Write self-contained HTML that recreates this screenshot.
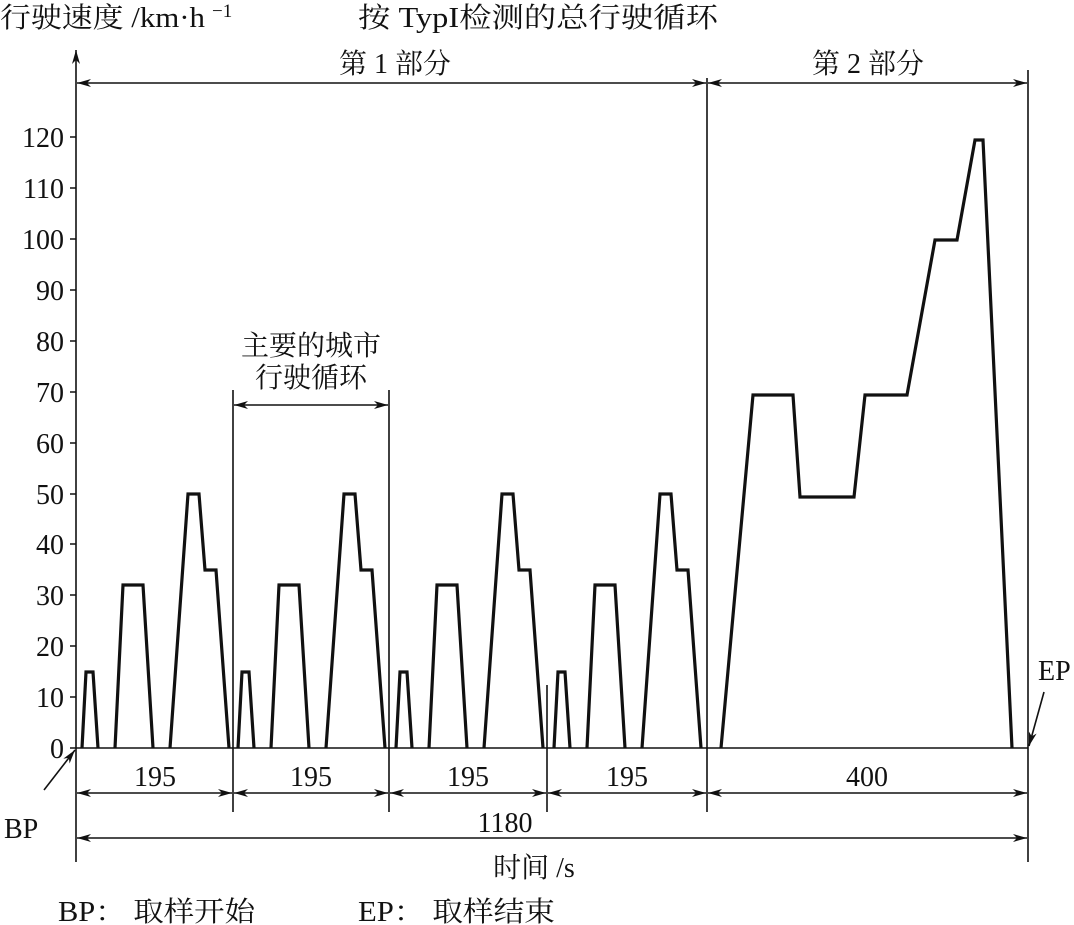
<!DOCTYPE html>
<html><head><meta charset="utf-8"><style>
html,body{margin:0;padding:0;background:#fff;}
svg{display:block;}
text{font-family:"Liberation Serif","Noto Serif CJK SC","Noto Sans CJK SC",serif;fill:#111;}
</style></head><body>
<svg width="1074" height="925" viewBox="0 0 1074 925" xmlns="http://www.w3.org/2000/svg">
<defs>
<marker id="a" viewBox="0 0 14 8" refX="14" refY="4" markerWidth="14" markerHeight="8" orient="auto-start-reverse" markerUnits="userSpaceOnUse">
<path d="M0,0 L14,4 L0,8 L4,4 Z" fill="#111"/></marker>
</defs>
<g stroke="#111" stroke-width="1.6" fill="none">
<line x1="76" y1="50" x2="76" y2="862" marker-start="url(#a)"/>
<line x1="76" y1="748" x2="1028" y2="748"/>
<line x1="707" y1="78" x2="707" y2="812"/>
<line x1="1028" y1="70" x2="1028" y2="862"/>
<line x1="233" y1="390" x2="233" y2="812"/>
<line x1="389" y1="390" x2="389" y2="812"/>
<line x1="547" y1="685" x2="547" y2="812"/>
<path d="M70,137H76M70,188H76M70,239H76M70,290H76M70,341H76M70,392H76M70,443H76M70,494H76M70,544H76M70,595H76M70,646H76M70,697H76M70,748H76"/>
<line x1="77" y1="83" x2="706" y2="83" marker-start="url(#a)" marker-end="url(#a)"/>
<line x1="708" y1="83" x2="1027" y2="83" marker-start="url(#a)" marker-end="url(#a)"/>
<line x1="234" y1="405" x2="388" y2="405" marker-start="url(#a)" marker-end="url(#a)"/>
<line x1="77" y1="793" x2="232" y2="793" marker-start="url(#a)" marker-end="url(#a)"/>
<line x1="234" y1="793" x2="388" y2="793" marker-start="url(#a)" marker-end="url(#a)"/>
<line x1="390" y1="793" x2="546" y2="793" marker-start="url(#a)" marker-end="url(#a)"/>
<line x1="548" y1="793" x2="706" y2="793" marker-start="url(#a)" marker-end="url(#a)"/>
<line x1="708" y1="793" x2="1027" y2="793" marker-start="url(#a)" marker-end="url(#a)"/>
<line x1="77" y1="838" x2="1027" y2="838" marker-start="url(#a)" marker-end="url(#a)"/>
<line x1="44" y1="790" x2="75" y2="750" marker-end="url(#a)"/>
<line x1="1044" y1="692" x2="1029" y2="746" marker-end="url(#a)"/>
</g>
<g stroke="#111" stroke-width="3.2" fill="none" stroke-linejoin="miter">
<g id="c">
<polyline points="82,748 86,672 93,672 98,748"/>
<polyline points="115,748 123,585 143,585 153,748"/>
<polyline points="170,748 188,494 199,494 205,570 216,570 229,748"/>
</g>
<use href="#c" transform="translate(156,0)"/>
<use href="#c" transform="translate(314,0)"/>
<use href="#c" transform="translate(472,0)"/>
<polyline points="721,748 753,395 793,395 800,497 854,497 865,395 907,395 935,240 957,240 975,140 983,140 1012,748"/>
</g>
<g font-size="28" text-anchor="end">
<text x="64" y="147">120</text><text x="64" y="198">110</text><text x="64" y="249">100</text>
<text x="64" y="300">90</text><text x="64" y="351">80</text><text x="64" y="402">70</text>
<text x="64" y="453">60</text><text x="64" y="504">50</text><text x="64" y="554">40</text>
<text x="64" y="605">30</text><text x="64" y="656">20</text><text x="64" y="707">10</text>
<text x="64" y="758">0</text>
</g>
<g font-size="28">
<text x="0" y="27" textLength="205" lengthAdjust="spacingAndGlyphs">行驶速度 /km·h</text>
<text x="212" y="17" font-size="19">−1</text>
<text x="358" y="27" textLength="360" lengthAdjust="spacingAndGlyphs">按 TypI检测的总行驶循环</text>
<text x="395" y="73" text-anchor="middle">第 1 部分</text>
<text x="868" y="73" text-anchor="middle">第 2 部分</text>
<text x="311" y="355" text-anchor="middle">主要的城市</text>
<text x="311" y="387" text-anchor="middle">行驶循环</text>
<text x="155" y="786" text-anchor="middle">195</text>
<text x="311" y="786" text-anchor="middle">195</text>
<text x="468" y="786" text-anchor="middle">195</text>
<text x="627" y="786" text-anchor="middle">195</text>
<text x="867" y="786" text-anchor="middle">400</text>
<text x="505" y="832" text-anchor="middle">1180</text>
<text x="534" y="877" text-anchor="middle">时间 /s</text>
<text x="4" y="838">BP</text>
<text x="1038" y="680">EP</text>
<text x="58" y="921" textLength="197" lengthAdjust="spacingAndGlyphs">BP： 取样开始</text>
<text x="358" y="921" textLength="197" lengthAdjust="spacingAndGlyphs">EP： 取样结束</text>
</g>
</svg>
</body></html>
